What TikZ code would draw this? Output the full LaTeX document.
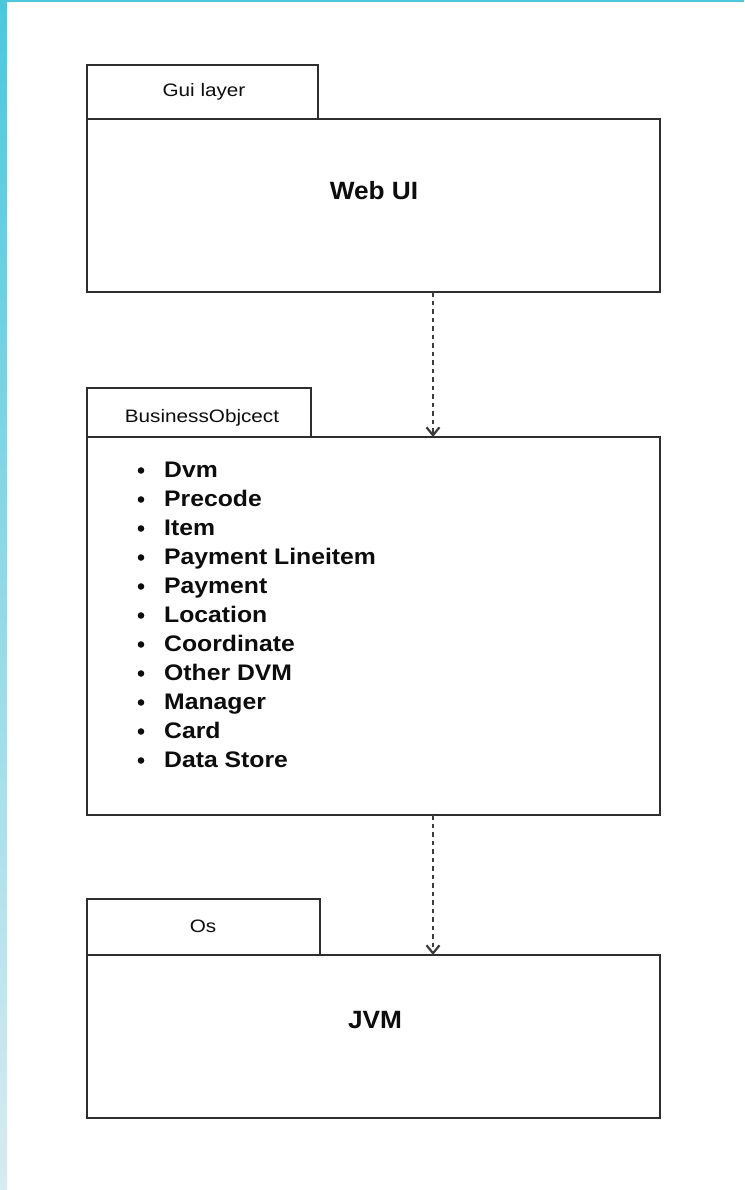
\documentclass[tikz,border=0pt]{standalone}
\usepackage{fontspec}
\setmainfont{Liberation Sans}
\newfontfamily\tabfont[FakeStretch=1.15]{Liberation Sans}
\newfontfamily\listfont[FakeStretch=1.1]{Liberation Sans}
\newfontfamily\titlefont[FakeStretch=1.05]{Liberation Sans}
\usetikzlibrary{arrows.meta}
\definecolor{linec}{HTML}{2E2E2E}
\definecolor{arrc}{HTML}{3C3C3C}
\definecolor{txtc}{HTML}{0D0D0D}
\definecolor{bandtop}{HTML}{4BC8DC}
\definecolor{bandbot}{HTML}{D8EBF0}
\begin{document}
\begin{tikzpicture}[x=1pt,y=-1pt,
  pkg/.style={draw=linec, line width=2pt, fill=white, inner sep=0pt, outer sep=0pt, rectangle},
  tablabel/.style={font=\tabfont\fontsize{18}{20}\selectfont, text=txtc, inner sep=0pt, anchor=base},
  title/.style={font=\titlefont\bfseries\fontsize{25}{28}\selectfont, text=txtc, inner sep=0pt, anchor=base},
  item/.style={font=\listfont\bfseries\fontsize{22.5}{25}\selectfont, text=txtc, inner sep=0pt, anchor=base west},
  bul/.style={circle, fill=txtc, inner sep=0pt, minimum size=6.6pt},
  dep/.style={draw=arrc, line width=2pt, dash pattern=on 4.5pt off 4pt, -{Straight Barb[length=8pt,width=13pt,line width=2.2pt]}}
]
\useasboundingbox (0,0) rectangle (744,1190);
% background bands
\shade[top color=bandtop, bottom color=bandbot] (0,0) rectangle (7,1190);
\fill[bandtop] (0,0) rectangle (744,2.2);

% package 1
\node[pkg, minimum width=231pt, minimum height=54pt] (guitab) at (202.5,92) {};
\node[pkg, minimum width=573pt, minimum height=173pt] (web) at (373.5,205.5) {};
\node[tablabel] (guilbl) at (204,97) {Gui layer};
\node[title] (weblbl) at (374,199.5) {Web UI};

% package 2
\node[pkg, minimum width=224pt, minimum height=49pt] (botab) at (199,412.5) {};
\node[pkg, minimum width=573pt, minimum height=378pt] (bo) at (373.5,626) {};
\node[tablabel] (bolbl) at (202,422) {BusinessObjcect};
\foreach \t [count=\i] in {Dvm,Precode,Item,Payment Lineitem,Payment,Location,Coordinate,Other DVM,Manager,Card,Data Store} {
  \node[item] (it\i) at (164,448+29*\i) {\t};
  \node[bul] (b\i) at (141,441.5+29*\i) {};
}

% package 3
\node[pkg, minimum width=233pt, minimum height=56pt] (ostab) at (203.5,927) {};
\node[pkg, minimum width=573pt, minimum height=163pt] (jvm) at (373.5,1036.5) {};
\node[tablabel] (oslbl) at (203,932) {Os};
\node[title] (jvmlbl) at (375,1028) {JVM};

% dependencies
\coordinate (ax) at (433,0);
\draw[dep] (web.south -| ax) -- (bo.north -| ax);
\draw[dep] (bo.south -| ax) -- (jvm.north -| ax);
\end{tikzpicture}
\end{document}
